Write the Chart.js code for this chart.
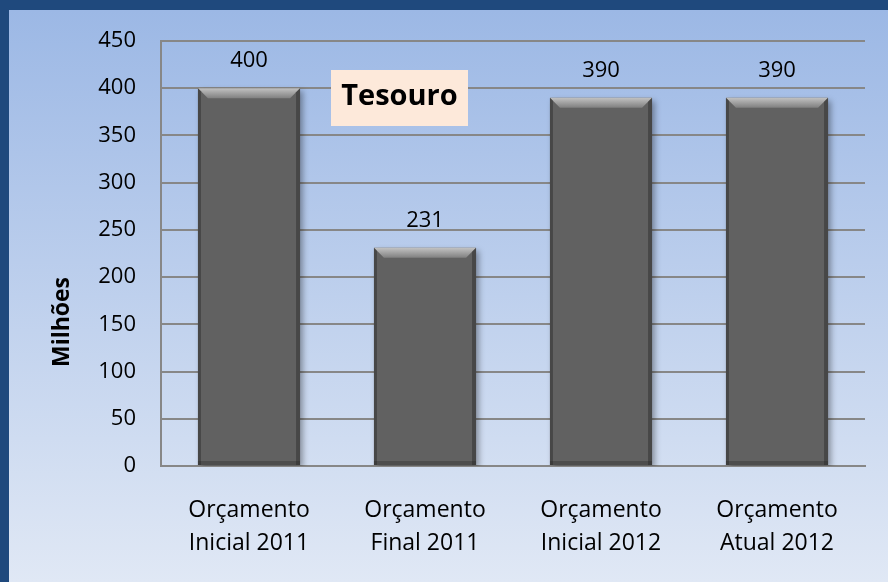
<!DOCTYPE html>
<html>
<head>
<meta charset="utf-8">
<script src="https://cdn.jsdelivr.net/npm/chart.js@4"></script>
<style>
  html, body { margin: 0; padding: 0; background: #1f497d; }
  #wrap { width: 888px; height: 582px; }
</style>
</head>
<body>
<div id="wrap"><canvas id="myChart" width="888" height="582"></canvas></div>
<script>
const labels = [
    ['Orçamento', 'Inicial 2011'],
    ['Orçamento', 'Final 2011'],
    ['Orçamento', 'Inicial 2012'],
    ['Orçamento', 'Atual 2012'],
]
const values = [400, 231, 390, 390]
const titleText = 'Tesouro'
const axisTitle = 'Milhões'

const FONT = '"Open Sans", Lato, sans-serif'

// fundo azul com moldura escura
const background = {
    id: 'background',
    beforeDraw(chart) {
        const c = chart.ctx
        c.save()
        c.fillStyle = '#1f497d'
        c.fillRect(0, 0, chart.width, chart.height)
        const g = c.createLinearGradient(0, 10, 0, chart.height)
        g.addColorStop(0, '#9cb8e5')
        g.addColorStop(1, '#e0e8f5')
        c.fillStyle = g
        c.fillRect(9, 10, chart.width - 9, chart.height - 10)
        c.restore()
    }
}

// sombra das barras
const barShadow = {
    id: 'barShadow',
    beforeDatasetsDraw(chart) {
        const c = chart.ctx
        c.save()
        c.shadowColor = 'rgba(0,0,0,0.35)'
        c.shadowBlur = 6
        c.shadowOffsetX = 3
        c.shadowOffsetY = 3
    },
    afterDatasetsDraw(chart) {
        const c = chart.ctx
        c.restore()
        // chanfro no topo de cada barra
        const meta = chart.getDatasetMeta(0)
        c.save()
        meta.data.forEach(bar => {
            const left = bar.x - bar.width / 2
            const right = bar.x + bar.width / 2
            const top = bar.y
            const d = 10
            const g = c.createLinearGradient(0, top, 0, top + d)
            g.addColorStop(0, '#c2c2c2')
            g.addColorStop(1, '#808080')
            c.fillStyle = g
            c.beginPath()
            c.moveTo(left, top)
            c.lineTo(right, top)
            c.lineTo(right - d, top + d)
            c.lineTo(left + d, top + d)
            c.closePath()
            c.fill()
            // lados mais escuros
            c.fillStyle = 'rgba(40,40,40,0.45)'
            c.beginPath()
            c.moveTo(right, top)
            c.lineTo(right, bar.base)
            c.lineTo(right - 4, bar.base)
            c.lineTo(right - 4, top + 4)
            c.closePath()
            c.fill()
            c.beginPath()
            c.moveTo(left, top)
            c.lineTo(left, bar.base)
            c.lineTo(left + 3, bar.base)
            c.lineTo(left + 3, top + 3)
            c.closePath()
            c.fill()
            c.fillStyle = 'rgba(40,40,40,0.35)'
            c.fillRect(left, bar.base - 4, bar.width, 4)
        })
        c.restore()
    }
}

// rótulos de valor, título da caixa e título do eixo
const extras = {
    id: 'extras',
    afterDraw(chart) {
        const c = chart.ctx
        const meta = chart.getDatasetMeta(0)
        c.save()
        c.fillStyle = '#000'
        c.font = '22px ' + FONT
        c.textAlign = 'center'
        c.textBaseline = 'middle'
        meta.data.forEach((bar, i) => {
            c.fillText(values[i], bar.x, bar.y - 27)
        })

        c.fillStyle = '#fde9da'
        c.fillRect(331, 70, 137, 56)
        c.fillStyle = '#000'
        c.font = 'bold 29px ' + FONT
        c.fillText(titleText, 399.5, 97)

        c.translate(62, 322)
        c.rotate(-Math.PI / 2)
        c.font = 'bold 23px ' + FONT
        c.fillText(axisTitle, 0, 0)
        c.restore()
    }
}

const data = {
    labels,
    datasets: [{
        data: values,
        backgroundColor: '#616161',
        borderWidth: 0,
        categoryPercentage: 1,
        barPercentage: 0.58
    }]
}

const config = {
    type: 'bar',
    data,
    plugins: [background, barShadow, extras],
    options: {
        responsive: false,
        animation: false,
        layout: { padding: { top: 41, right: 23, left: 0, bottom: 0 } },
        plugins: {
            legend: { display: false },
            tooltip: { enabled: false }
        },
        scales: {
            y: {
                min: 0,
                max: 450,
                afterFit(scale) { scale.width = 161 },
                ticks: {
                    stepSize: 50,
                    color: '#000',
                    padding: 25,
                    font: { size: 22, family: FONT }
                },
                grid: { color: '#878787', lineWidth: 2, drawTicks: false },
                border: { color: '#878787', width: 2 }
            },
            x: {
                afterFit(scale) { scale.height = 116 },
                ticks: {
                    color: '#000',
                    padding: 28,
                    maxRotation: 0,
                    font: { size: 23, family: FONT, lineHeight: 1.43 }
                },
                grid: { display: false, drawTicks: false },
                border: { color: '#878787', width: 2 }
            }
        }
    }
}

const myChart = new Chart(document.getElementById('myChart').getContext('2d'), config)
</script>
</body>
</html>
